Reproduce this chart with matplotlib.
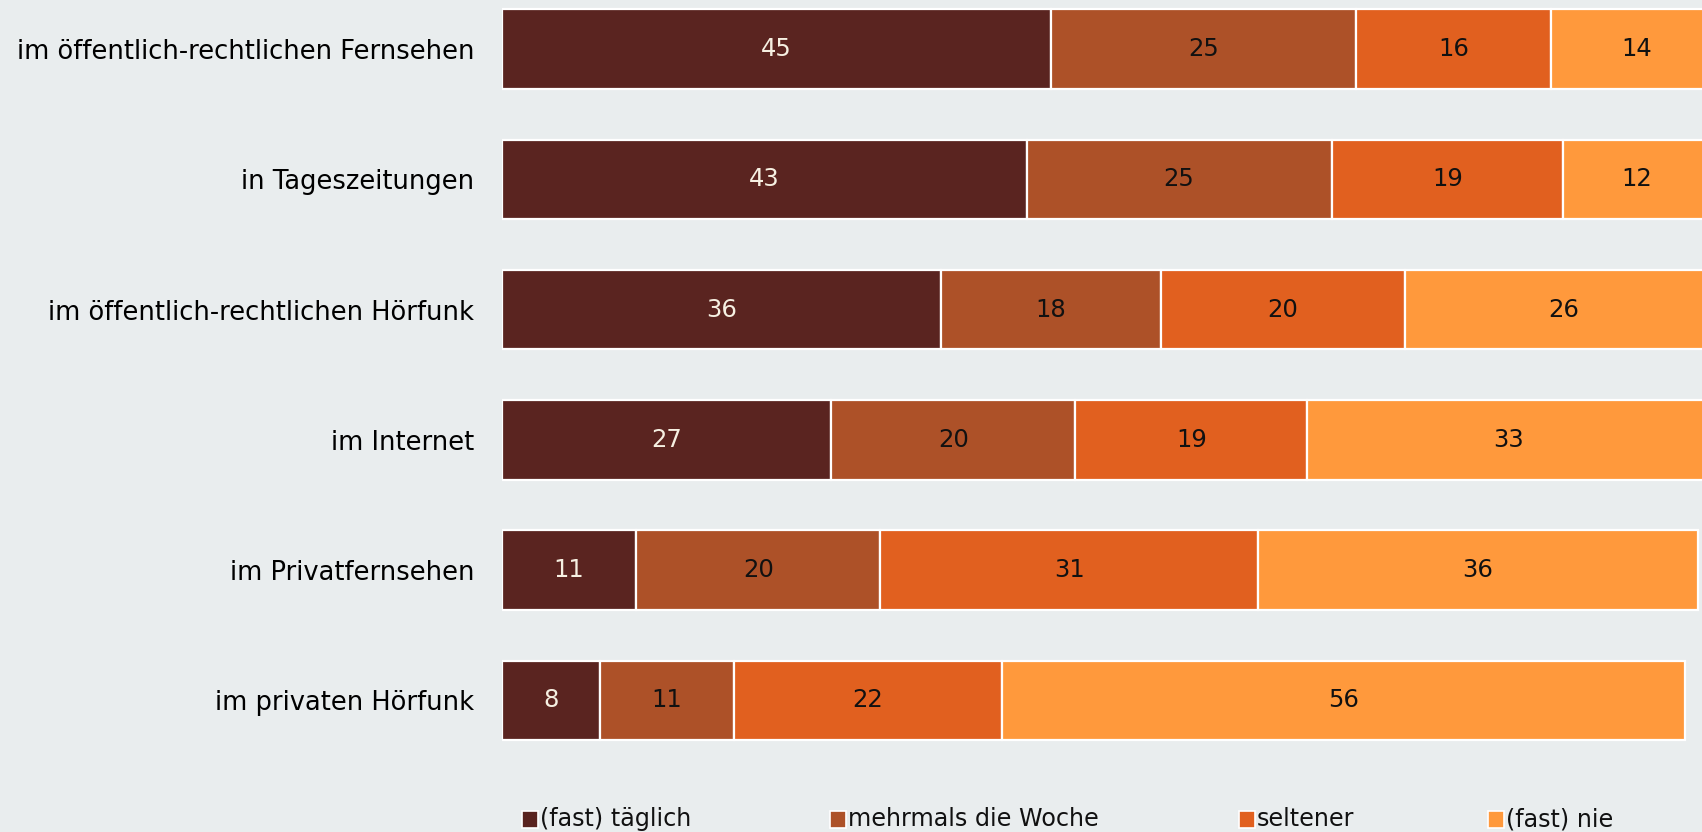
import numpy as np
import matplotlib
matplotlib.use('Agg')
import matplotlib.pyplot as plt
from matplotlib.patches import Rectangle

# Nutzung nach Medium, Anteile in Prozent
categories = ['im öffentlich-rechtlichen Fernsehen', 'in Tageszeitungen',
              'im öffentlich-rechtlichen Hörfunk', 'im Internet',
              'im Privatfernsehen', 'im privaten Hörfunk']
series_names = ['(fast) täglich', 'mehrmals die Woche', 'seltener', '(fast) nie']
taeglich = [45, 43, 36, 27, 11, 8]
mehrmals = [25, 25, 18, 20, 20, 11]
seltener = [16, 19, 20, 19, 31, 22]
nie = [14, 12, 26, 33, 36, 56]

colors = ['#5A2420', '#AD5128', '#E1601F', '#FF993C']
text_colors = ['#F6F0E2', '#111111', '#111111', '#111111']
bg = '#E9EDEE'

plt.rcParams['font.family'] = ['DejaVu Sans']

fig = plt.figure(figsize=(17.02, 8.32), dpi=100, facecolor=bg)
ax = fig.add_axes([502 / 1702, 0, 1220 / 1702, 1])
ax.set_facecolor(bg)

y = np.arange(len(categories))
left = np.zeros(len(categories))
for vals, col, tcol in zip([taeglich, mehrmals, seltener, nie], colors, text_colors):
    vals = np.array(vals)
    ax.barh(y, vals, left=left, height=0.61, color=col,
            edgecolor='white', linewidth=1.6)
    for yi, l, v in zip(y, left, vals):
        ax.text(l + v / 2, yi, str(v), ha='center', va='center',
                fontsize=17.5, color=tcol)
    left += vals

ax.set_xlim(0, 100)
ax.set_ylim(6.01, -0.376)
ax.set_yticks(y)
ax.set_yticklabels(categories, fontsize=18.5)
ax.tick_params(axis='y', length=0, pad=20)
ax.set_xticks([])
for s in ax.spines.values():
    s.set_visible(False)

# Legende unten
leg_x = [522, 830, 1239, 1488]
for x0, name, col in zip(leg_x, series_names, colors):
    fig.add_artist(Rectangle((x0 / 1702, 1 - 828 / 832), 16 / 1702, 17 / 832,
                             transform=fig.transFigure, facecolor=col,
                             edgecolor='white', linewidth=1.2))
    fig.text((x0 + 18) / 1702, 1 - 819 / 832, name, ha='left', va='center',
             fontsize=17.2, color='#111111')

plt.savefig('out.png', dpi=100, facecolor=bg)
